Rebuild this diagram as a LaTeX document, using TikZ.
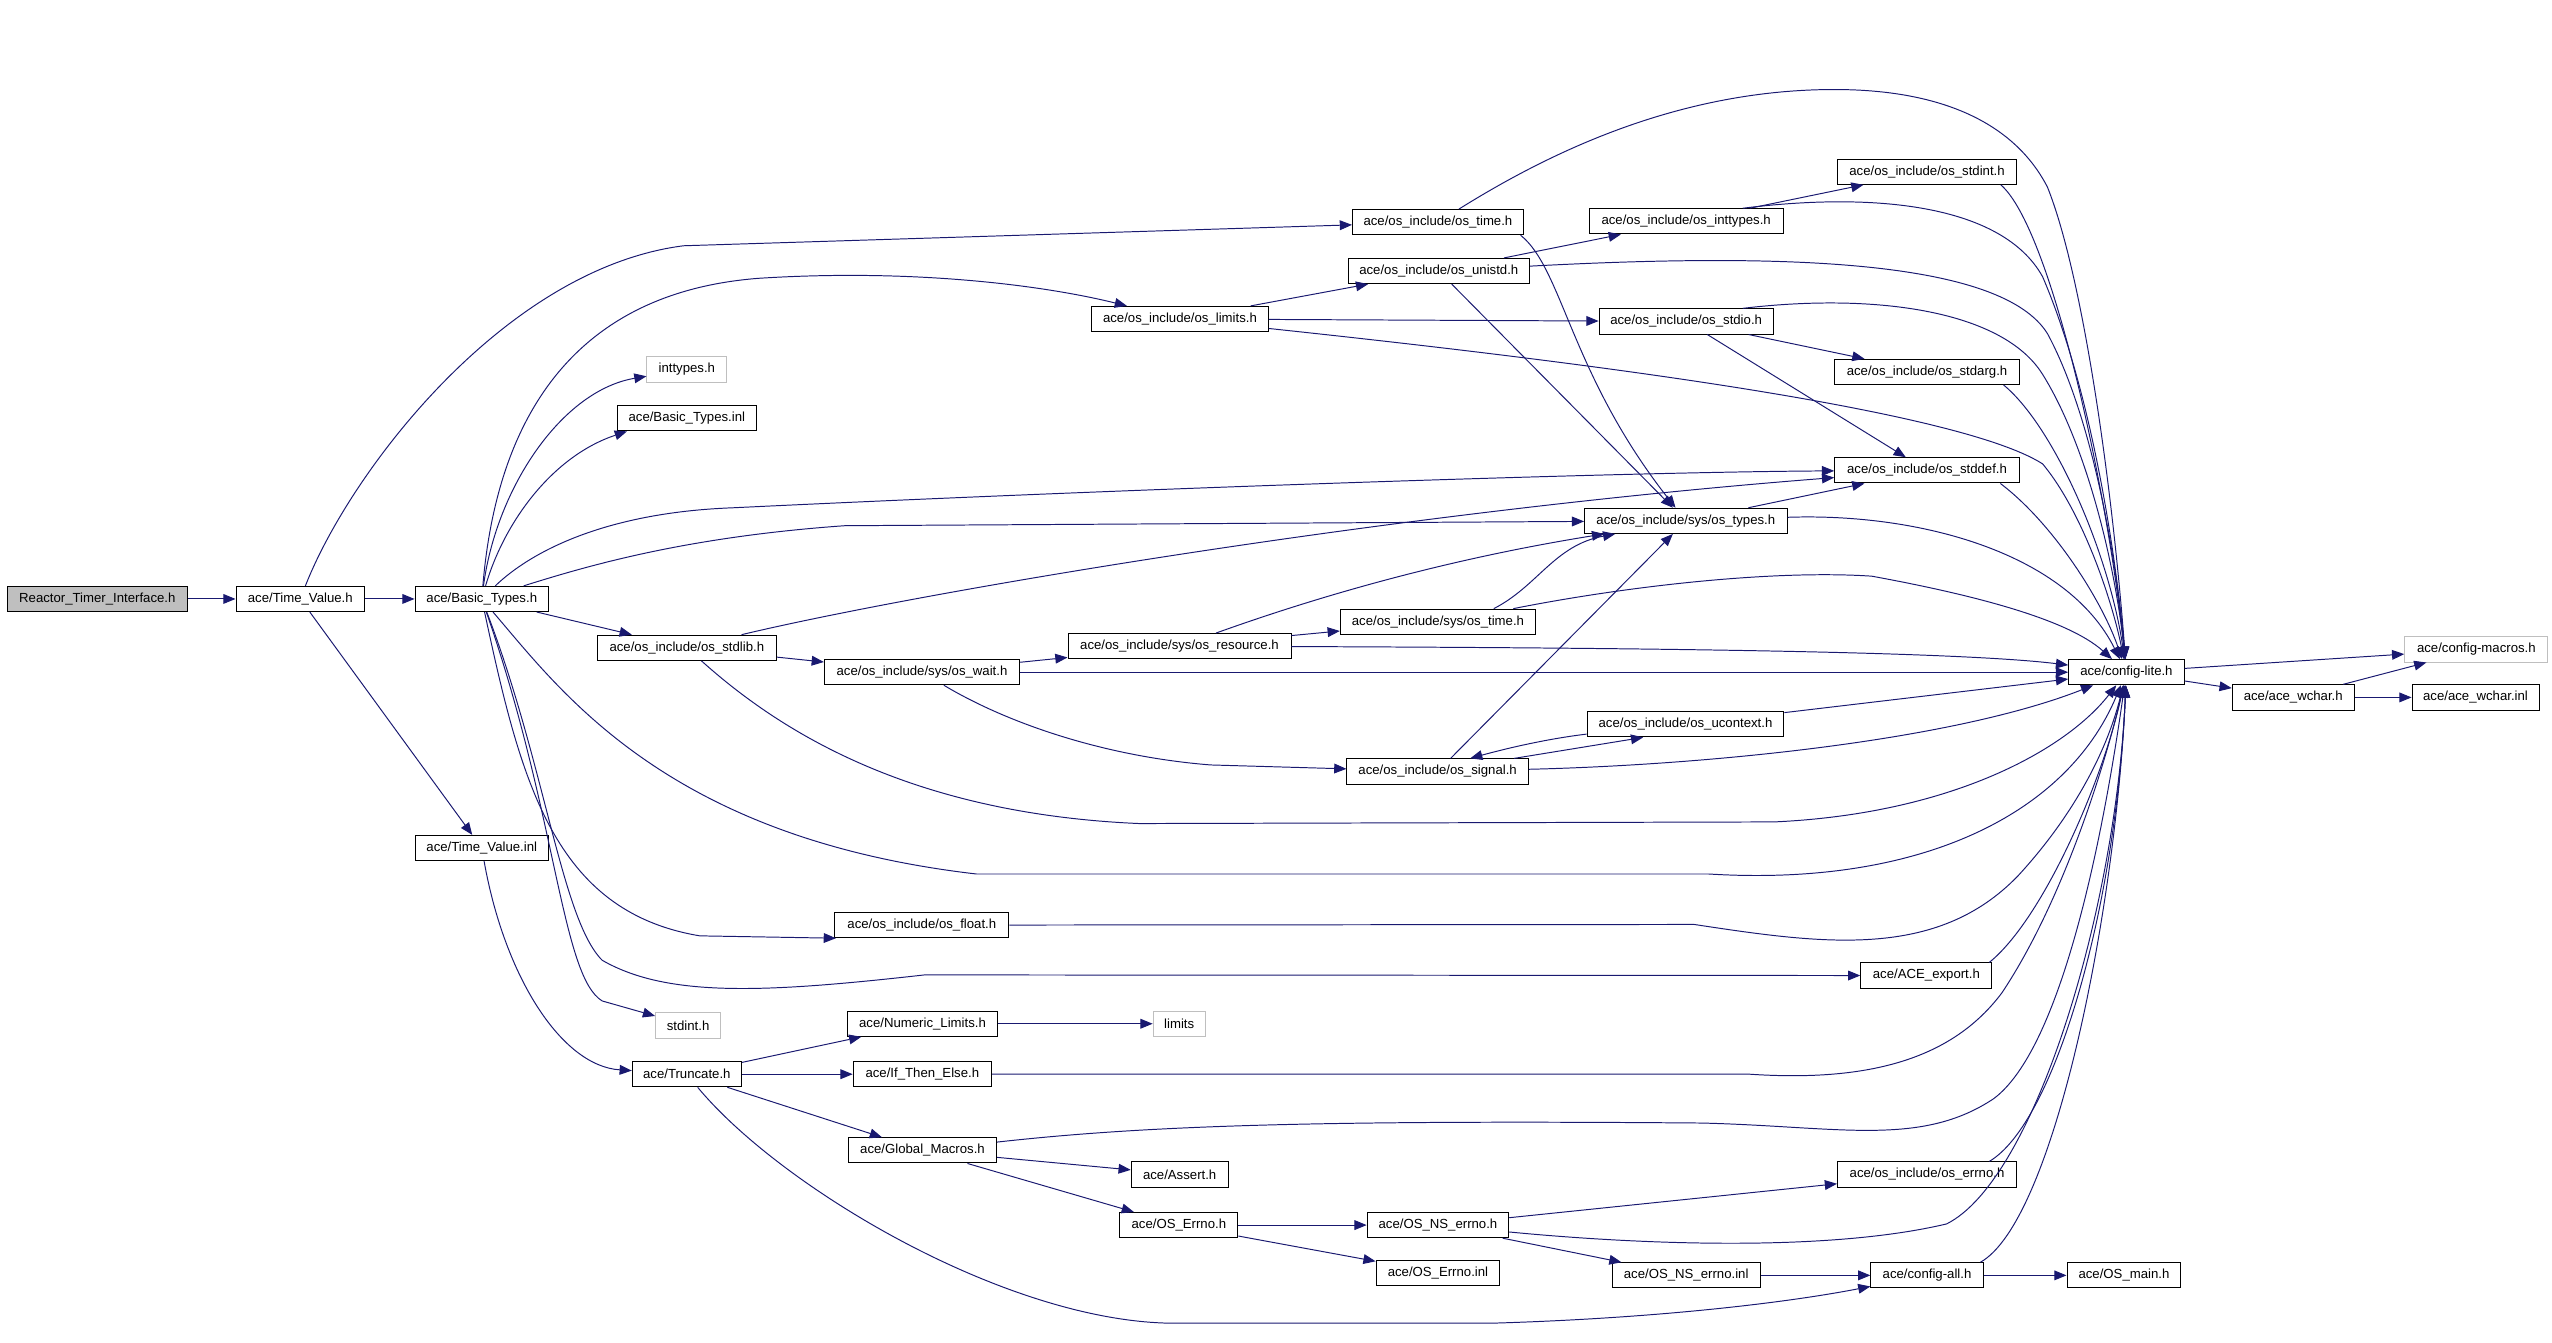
\documentclass[tikz,border=0pt]{standalone}
\usepackage{fontspec}
\setmainfont{Liberation Sans}
\usetikzlibrary{arrows.meta}
\definecolor{azul}{HTML}{191970}
\definecolor{gris}{HTML}{BFBFBF}
\tikzset{
  caja/.style={draw=black, fill=white, line width=0.6pt, inner sep=0pt,
    minimum height=15.5pt, font=\fontsize{8.1pt}{9pt}\selectfont},
  raiz/.style={caja, fill=gris},
  ausente/.style={caja, draw=gris},
  arista/.style={draw=azul, line width=0.6pt, -{Triangle[length=7.5pt,width=6pt]}}
}
\begin{document}
\begin{tikzpicture}[x=1pt, y=-1pt]
    \useasboundingbox (0,0) rectangle (1568,825);

    % Nodos
    \node[raiz, minimum width=111pt] (rti) at (59.8,368) {Reactor\_Timer\_Interface.h};
    \node[caja, minimum width=79pt] (tvh) at (184.5,368) {ace/Time\_Value.h};
    \node[caja, minimum width=82pt] (bth) at (296,368) {ace/Basic\_Types.h};
    \node[caja, minimum width=82pt] (tvi) at (296,521) {ace/Time\_Value.inl};
    \node[ausente, minimum width=49pt] (inty) at (422,227) {inttypes.h};
    \node[caja, minimum width=85pt] (bti) at (422,257) {ace/Basic\_Types.inl};
    \node[caja, minimum width=110pt] (stdlib) at (422,398) {ace/os\_include/os\_stdlib.h};
    \node[ausente, minimum width=40pt] (stdinth) at (422.8,630) {stdint.h};
    \node[caja, minimum width=67pt] (trunc) at (422,660) {ace/Truncate.h};

    \node[caja, minimum width=120pt] (wait) at (566.5,413) {ace/os\_include/sys/os\_wait.h};
    \node[caja, minimum width=107pt] (float) at (566.4,568.4) {ace/os\_include/os\_float.h};
    \node[caja, minimum width=92pt] (numlim) at (566.8,629) {ace/Numeric\_Limits.h};
    \node[caja, minimum width=85pt] (ifte) at (566.7,660) {ace/If\_Then\_Else.h};
    \node[caja, minimum width=91pt] (gmac) at (566.8,706.8) {ace/Global\_Macros.h};

    \node[caja, minimum width=108.6pt] (oslim) at (725,196) {ace/os\_include/os\_limits.h};
    \node[caja, minimum width=137pt] (resource) at (724.7,397) {ace/os\_include/sys/os\_resource.h};
    \node[ausente, minimum width=32pt] (limits) at (724.5,629) {limits};
    \node[caja, minimum width=59.5pt] (assert) at (724.8,721.6) {ace/Assert.h};
    \node[caja, minimum width=72.5pt] (oserr) at (724.3,752.7) {ace/OS\_Errno.h};

    \node[caja, minimum width=105pt] (ostime) at (883.5,136.5) {ace/os\_include/os\_time.h};
    \node[caja, minimum width=111.5pt] (unistd) at (884,166.5) {ace/os\_include/os\_unistd.h};
    \node[caja, minimum width=120pt] (systime) at (883.5,382) {ace/os\_include/sys/os\_time.h};
    \node[caja, minimum width=111.5pt] (signal) at (883.3,474) {ace/os\_include/os\_signal.h};
    \node[caja, minimum width=87pt] (nserr) at (883.5,752.7) {ace/OS\_NS\_errno.h};
    \node[caja, minimum width=76pt] (oserrinl) at (883.5,782) {ace/OS\_Errno.inl};

    \node[caja, minimum width=119pt] (inttypes) at (1036,136) {ace/os\_include/os\_inttypes.h};
    \node[caja, minimum width=107pt] (stdio) at (1036,197.5) {ace/os\_include/os\_stdio.h};
    \node[caja, minimum width=124.4pt] (systypes) at (1035.8,320) {ace/os\_include/sys/os\_types.h};
    \node[caja, minimum width=121pt] (ucontext) at (1035.6,445) {ace/os\_include/os\_ucontext.h};
    \node[caja, minimum width=91pt] (nserrinl) at (1036,783.6) {ace/OS\_NS\_errno.inl};

    \node[caja, minimum width=110pt] (stdint) at (1184,105.5) {ace/os\_include/os\_stdint.h};
    \node[caja, minimum width=113.5pt] (stdarg) at (1184,228.5) {ace/os\_include/os\_stdarg.h};
    \node[caja, minimum width=113.5pt] (stddef) at (1184,289) {ace/os\_include/os\_stddef.h};
    \node[caja, minimum width=80.6pt] (export) at (1183.6,599.4) {ace/ACE\_export.h};
    \node[caja, minimum width=110pt] (oserrnoh) at (1184,721.6) {ace/os\_include/os\_errno.h};
    \node[caja, minimum width=69pt] (cfgall) at (1184,783.6) {ace/config-all.h};

    \node[caja, minimum width=71pt] (cfglite) at (1306.5,413) {ace/config-lite.h};
    \node[caja, minimum width=70pt] (osmain) at (1305,783.6) {ace/OS\_main.h};
    \node[caja, minimum width=75pt] (wchar) at (1409,428.5) {ace/ace\_wchar.h};
    \node[ausente, minimum width=88pt] (cfgmacros) at (1521.5,399) {ace/config-macros.h};
    \node[caja, minimum width=78pt] (wcharinl) at (1521,428.5) {ace/ace\_wchar.inl};

    % Time_Value.h
    \draw[arista] (rti) -- (tvh);
    \draw[arista] (tvh) -- (bth);
    \draw[arista] (tvh) .. controls (215,290) and (310,165) .. (420,151) -- (ostime);
    \draw[arista] (tvh) -- (tvi);

    % Basic_Types.h
    \draw[arista] (bth) .. controls (305,260) and (350,180) .. (466,171) .. controls (560,165) and (640,175) .. (oslim);
    \draw[arista] (bth) .. controls (305,300) and (345,240) .. (inty);
    \draw[arista] (bth) .. controls (310,320) and (340,280) .. ([xshift=6pt]bti.south west);
    \draw[arista] (bth) .. controls (325,340) and (370,315) .. (450,312) .. controls (700,300) and (1000,290) .. (stddef);
    \draw[arista] (bth) .. controls (360,348) and (420,330) .. (519,323) -- (systypes);
    \draw[arista] (bth) -- (stdlib);
    \draw[arista] (bth) .. controls (345,425) and (410,515) .. (600,537) -- (1050,537) .. controls (1180,545) and (1270,500) .. (cfglite);
    \draw[arista] (bth) .. controls (320,480) and (340,560) .. (430,575) -- ([xshift=1pt]float.south west);
    \draw[arista] (bth) .. controls (335,470) and (345,565) .. (370,590) .. controls (410,613) and (470,610) .. (568,599) -- (export);
    \draw[arista] (bth) .. controls (342,500) and (345,600) .. (370,615) -- (stdinth);

    % Time_Value.inl
    \draw[arista] (tvi) .. controls (310,600) and (345,655) .. (trunc);

    % os_stdlib.h
    \draw[arista] (stdlib) -- (wait);
    \draw[arista] (stdlib) .. controls (560,365) and (850,315) .. (stddef);
    \draw[arista] (stdlib) .. controls (480,450) and (560,500) .. (700,506) -- (1090,505) .. controls (1200,500) and (1270,460) .. (cfglite);

    % sys/os_wait.h
    \draw[arista] (wait) -- (resource);
    \draw[arista] (wait) -- (cfglite);
    \draw[arista] (wait) .. controls (620,445) and (680,465) .. (744,470) -- (signal);

    % sys/os_resource.h
    \draw[arista] (resource) -- (systime);
    \draw[arista] (resource) .. controls (800,370) and (880,345) .. (systypes);
    \draw[arista] (resource) .. controls (1000,398) and (1200,400) .. (cfglite);

    % sys/os_time.h
    \draw[arista] ([xshift=-26pt]systime.north east) .. controls (945,360) and (955,335) .. (systypes);
    \draw[arista] ([xshift=-14pt]systime.north east) .. controls (1000,360) and (1090,350) .. (1150,354) .. controls (1210,365) and (1270,380) .. (cfglite);

    % sys/os_types.h
    \draw[arista] (systypes) -- (stddef);
    \draw[arista] (systypes) .. controls (1180,315) and (1270,340) .. (cfglite);

    % os_limits.h
    \draw[arista] (oslim) -- (unistd);
    \draw[arista] (oslim) -- (stdio);
    \draw[arista] (oslim) .. controls (950,220) and (1200,250) .. (1255,285) .. controls (1280,315) and (1298,370) .. (cfglite);

    % os_time.h
    \draw[arista] (ostime) .. controls (950,95) and (1030,55) .. (1127,55) .. controls (1200,55) and (1240,80) .. (1258,115) .. controls (1280,170) and (1298,300) .. (cfglite);
    \draw[arista] ([xshift=-2pt]ostime.south east) .. controls (960,165) and (965,230) .. (systypes);

    % os_unistd.h
    \draw[arista] (unistd) -- (inttypes);
    \draw[arista] (unistd) .. controls (1100,155) and (1230,160) .. (1258,205) .. controls (1285,255) and (1300,340) .. (cfglite);
    \draw[arista] (unistd) -- (systypes);

    % os_inttypes.h, os_stdint.h
    \draw[arista] (inttypes) -- (stdint);
    \draw[arista] ([xshift=-25pt]inttypes.north east) .. controls (1150,118) and (1230,125) .. (1255,170) .. controls (1285,240) and (1300,340) .. (cfglite);
    \draw[arista] ([xshift=-10pt]stdint.south east) .. controls (1260,140) and (1295,300) .. (cfglite);

    % os_stdio.h, os_stdarg.h, os_stddef.h
    \draw[arista] (stdio) -- (stdarg);
    \draw[arista] (stdio) -- (stddef);
    \draw[arista] ([xshift=-19pt]stdio.north east) .. controls (1150,180) and (1230,190) .. (1255,230) .. controls (1283,275) and (1300,350) .. (cfglite);
    \draw[arista] ([xshift=-10pt]stdarg.south east) .. controls (1262,262) and (1296,340) .. (cfglite);
    \draw[arista] ([xshift=-12pt]stddef.south east) .. controls (1262,322) and (1292,370) .. (cfglite);

    % config-lite.h
    \draw[arista] (cfglite) -- (cfgmacros);
    \draw[arista] (cfglite) -- (wchar);
    \draw[arista] (wchar) -- (cfgmacros);
    \draw[arista] (wchar) -- (wcharinl);

    % os_ucontext.h, os_signal.h
    \draw[arista] (ucontext) -- (cfglite);
    \draw[arista] ([yshift=2pt]ucontext.south west) .. controls (950,454) and (925,460) .. ([xshift=20pt]signal.north);
    \draw[arista] ([xshift=-9pt]signal.north east) -- ([xshift=-26pt]ucontext.south);
    \draw[arista] (signal) .. controls (1050,470) and (1200,455) .. (cfglite);
    \draw[arista] (signal) -- (systypes);

    % os_float.h, ACE_export.h
    \draw[arista] (float) -- (1041,568) .. controls (1120,580) and (1190,590) .. (1240,538) .. controls (1275,500) and (1295,460) .. (cfglite);
    \draw[arista] ([xshift=-2pt]export.north east) .. controls (1255,565) and (1292,480) .. (cfglite);

    % Truncate.h
    \draw[arista] (numlim) -- (limits);
    \draw[arista] (trunc) -- (numlim);
    \draw[arista] (trunc) -- (ifte);
    \draw[arista] (trunc) -- (gmac);
    \draw[arista] (trunc) .. controls (480,730) and (620,813) .. (722,813) -- (916,813) .. controls (1020,810) and (1100,800) .. (cfgall);
    \draw[arista] (ifte) -- (1075,660) .. controls (1150,665) and (1200,650) .. (1230,610) .. controls (1270,550) and (1296,460) .. (cfglite);

    % Global_Macros.h
    \draw[arista] (gmac) .. controls (700,692) and (800,688) .. (1045,690) .. controls (1130,692) and (1180,705) .. (1225,675) .. controls (1272,640) and (1297,480) .. (cfglite);
    \draw[arista] (gmac) -- (assert);
    \draw[arista] (gmac) -- (oserr);

    % OS_Errno.h, OS_NS_errno.h
    \draw[arista] (oserr) -- (nserr);
    \draw[arista] (oserr) -- (oserrinl);
    \draw[arista] (nserr) -- (oserrnoh);
    \draw[arista] (nserr) .. controls (1000,764) and (1120,770) .. (1196,752) .. controls (1250,725) and (1300,560) .. (cfglite);
    \draw[arista] (nserr) -- (nserrinl);
    \draw[arista] ([xshift=-17pt]oserrnoh.north east) .. controls (1262,690) and (1300,560) .. (cfglite);

    % config-all.h
    \draw[arista] (nserrinl) -- (cfgall);
    \draw[arista] (cfgall) -- (osmain);
    \draw[arista] ([xshift=-2pt]cfgall.north east) .. controls (1262,750) and (1300,560) .. (cfglite);
\end{tikzpicture}
\end{document}
